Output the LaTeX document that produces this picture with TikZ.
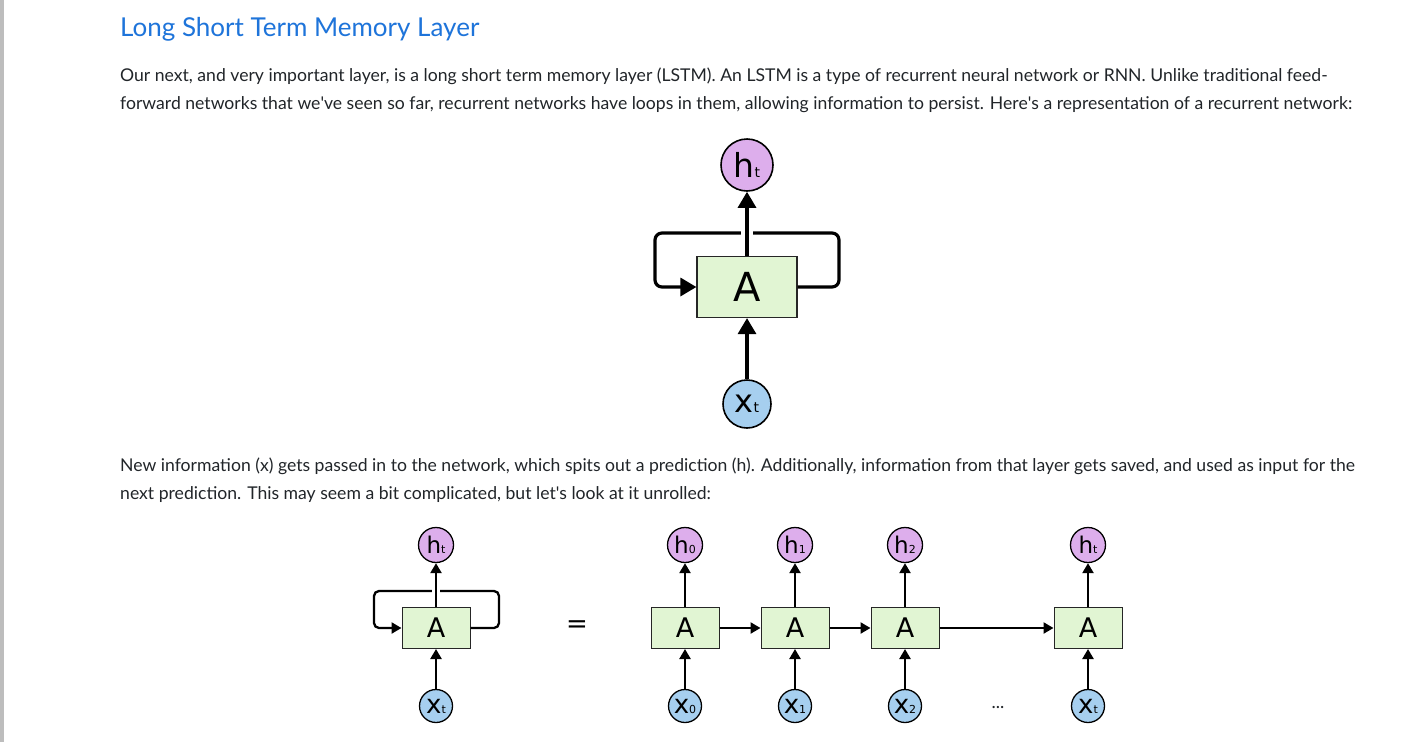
\documentclass[tikz,border=0pt]{standalone}
\usepackage{fontspec}
\setmainfont{Lato}
\newfontfamily\diagfont{DejaVu Sans}
\usepackage{xcolor}
\usetikzlibrary{arrows.meta}

\definecolor{titleblue}{HTML}{1E74DA}
\definecolor{bodytext}{HTML}{212529}
\definecolor{hfill}{HTML}{DDAEEC}
\definecolor{xfill}{HTML}{A6CFEF}
\definecolor{cellfill}{HTML}{E1F5D3}
\definecolor{sidebar}{HTML}{BDBDBD}

\newcommand{\fs}[1]{\fontsize{#1}{#1}\selectfont}

\tikzset{
	line/.style={anchor=base west, text=bodytext, font=\fontsize{17.6}{20}\selectfont, inner sep=0},
	hbig/.style={circle, draw, line width=1.6, fill=hfill, minimum size=52, inner sep=0, font=\diagfont},
	xbig/.style={circle, draw, line width=1.6, fill=xfill, minimum size=48, inner sep=0, font=\diagfont},
	cellbig/.style={draw=black!85, line width=1.2, fill=cellfill, minimum width=100, minimum height=61, inner sep=0, font=\diagfont\fs{40}},
	hsmall/.style={circle, draw, line width=1.3, fill=hfill, minimum size=35, inner sep=0, font=\diagfont},
	xsmall/.style={circle, draw, line width=1.3, fill=xfill, minimum size=33, inner sep=0, font=\diagfont},
	cellsmall/.style={draw=black!85, line width=1, fill=cellfill, minimum width=68, minimum height=41, inner sep=0, font=\diagfont\fs{27}},
}

\begin{document}
\begin{tikzpicture}[x=1pt,y=-1pt]
		\fill[white] (0,0) rectangle (1411,742);
		\useasboundingbox (0,0) rectangle (1411,742);
		\fill[sidebar] (0,0) rectangle (4,742);
		%
		\node[line, text=titleblue, font=\fs{26}] (title) at (120,36) {Long Short Term Memory Layer};
		\node[line] (p1a) at (120,81) {Our next, and very important layer, is a long short term memory layer (LSTM). An LSTM is a type of recurrent neural network or RNN. Unlike traditional feed-};
		\node[line] (p1b) at (120,109) {forward networks that we\textquotesingle ve seen so far, recurrent networks have loops in them, allowing information to persist. Here\textquotesingle s a representation of a recurrent network:};
		\node[line] (p2a) at (120,471) {New information (x) gets passed in to the network, which spits out a prediction (h). Additionally, information from that layer gets saved, and used as input for the};
		\node[line] (p2b) at (120,499) {next prediction. This may seem a bit complicated, but let\textquotesingle s look at it unrolled:};
		%
		\node[hbig] (h) at (747,165) {\fs{33}h{\fs{14}t}};
		\node[cellbig] (A) at (747,287) {A};
		\node[xbig] (x) at (747,404) {\fs{32}x{\fs{14}t}};
		%
		\draw[line width=3.2, rounded corners=7, -{Triangle[length=16,width=18]}]
		(A.east) -| (839,233) -| (655,287) -- (A.west);
		\draw[line width=7, white] (741,233) -- (753,233);
		\path[line width=3.2, -{Triangle[length=16,width=18]}]
		(x) edge (A)
		(A) edge (h);
		%
		\node[hsmall] (hl) at (436,545) {\fs{23}h{\fs{11}t}};
		\node[cellsmall] (Al) at (436,628) {A};
		\node[xsmall] (xl) at (436,706) {\fs{26}x{\fs{11}t}};
		\draw[line width=2.3, rounded corners=5, -{Triangle[length=10,width=11]}]
		(Al.east) -| (499,591) -| (374,628) -- (Al.west);
		\draw[line width=5, white] (432,591) -- (440,591);
		\path[line width=2.3, -{Triangle[length=10,width=11]}]
		(xl) edge (Al)
		(Al) edge (hl);
		%
		\node[font=\diagfont\fs{26}] (eq) at (577,627) {=};
		%
		\node[hsmall] (h0) at (685,545) {\fs{23}h{\fs{11}0}};
		\node[hsmall] (h1) at (795,545) {\fs{23}h{\fs{11}1}};
		\node[hsmall] (h2) at (905,545) {\fs{23}h{\fs{11}2}};
		\node[hsmall] (ht) at (1088,545) {\fs{23}h{\fs{11}t}};
		\node[cellsmall] (A0) at (685,628) {A};
		\node[cellsmall] (A1) at (795,628) {A};
		\node[cellsmall] (A2) at (905,628) {A};
		\node[cellsmall] (At) at (1088,628) {A};
		\node[xsmall] (x0) at (685,706) {\fs{26}x{\fs{11}0}};
		\node[xsmall] (x1) at (795,706) {\fs{26}x{\fs{11}1}};
		\node[xsmall] (x2) at (905,706) {\fs{26}x{\fs{11}2}};
		\node[xsmall] (xt) at (1088,706) {\fs{26}x{\fs{11}t}};
		\node[font=\fs{18}, text=bodytext] (dots) at (998,707) {...};
		%
		\path[line width=2.3, -{Triangle[length=10,width=11]}]
		(x0) edge (A0)
		(x1) edge (A1)
		(x2) edge (A2)
		(xt) edge (At)
		(A0) edge (h0)
		(A1) edge (h1)
		(A2) edge (h2)
		(At) edge (ht)
		(A0) edge (A1)
		(A1) edge (A2)
		(A2) edge (At);
\end{tikzpicture}
\end{document}
